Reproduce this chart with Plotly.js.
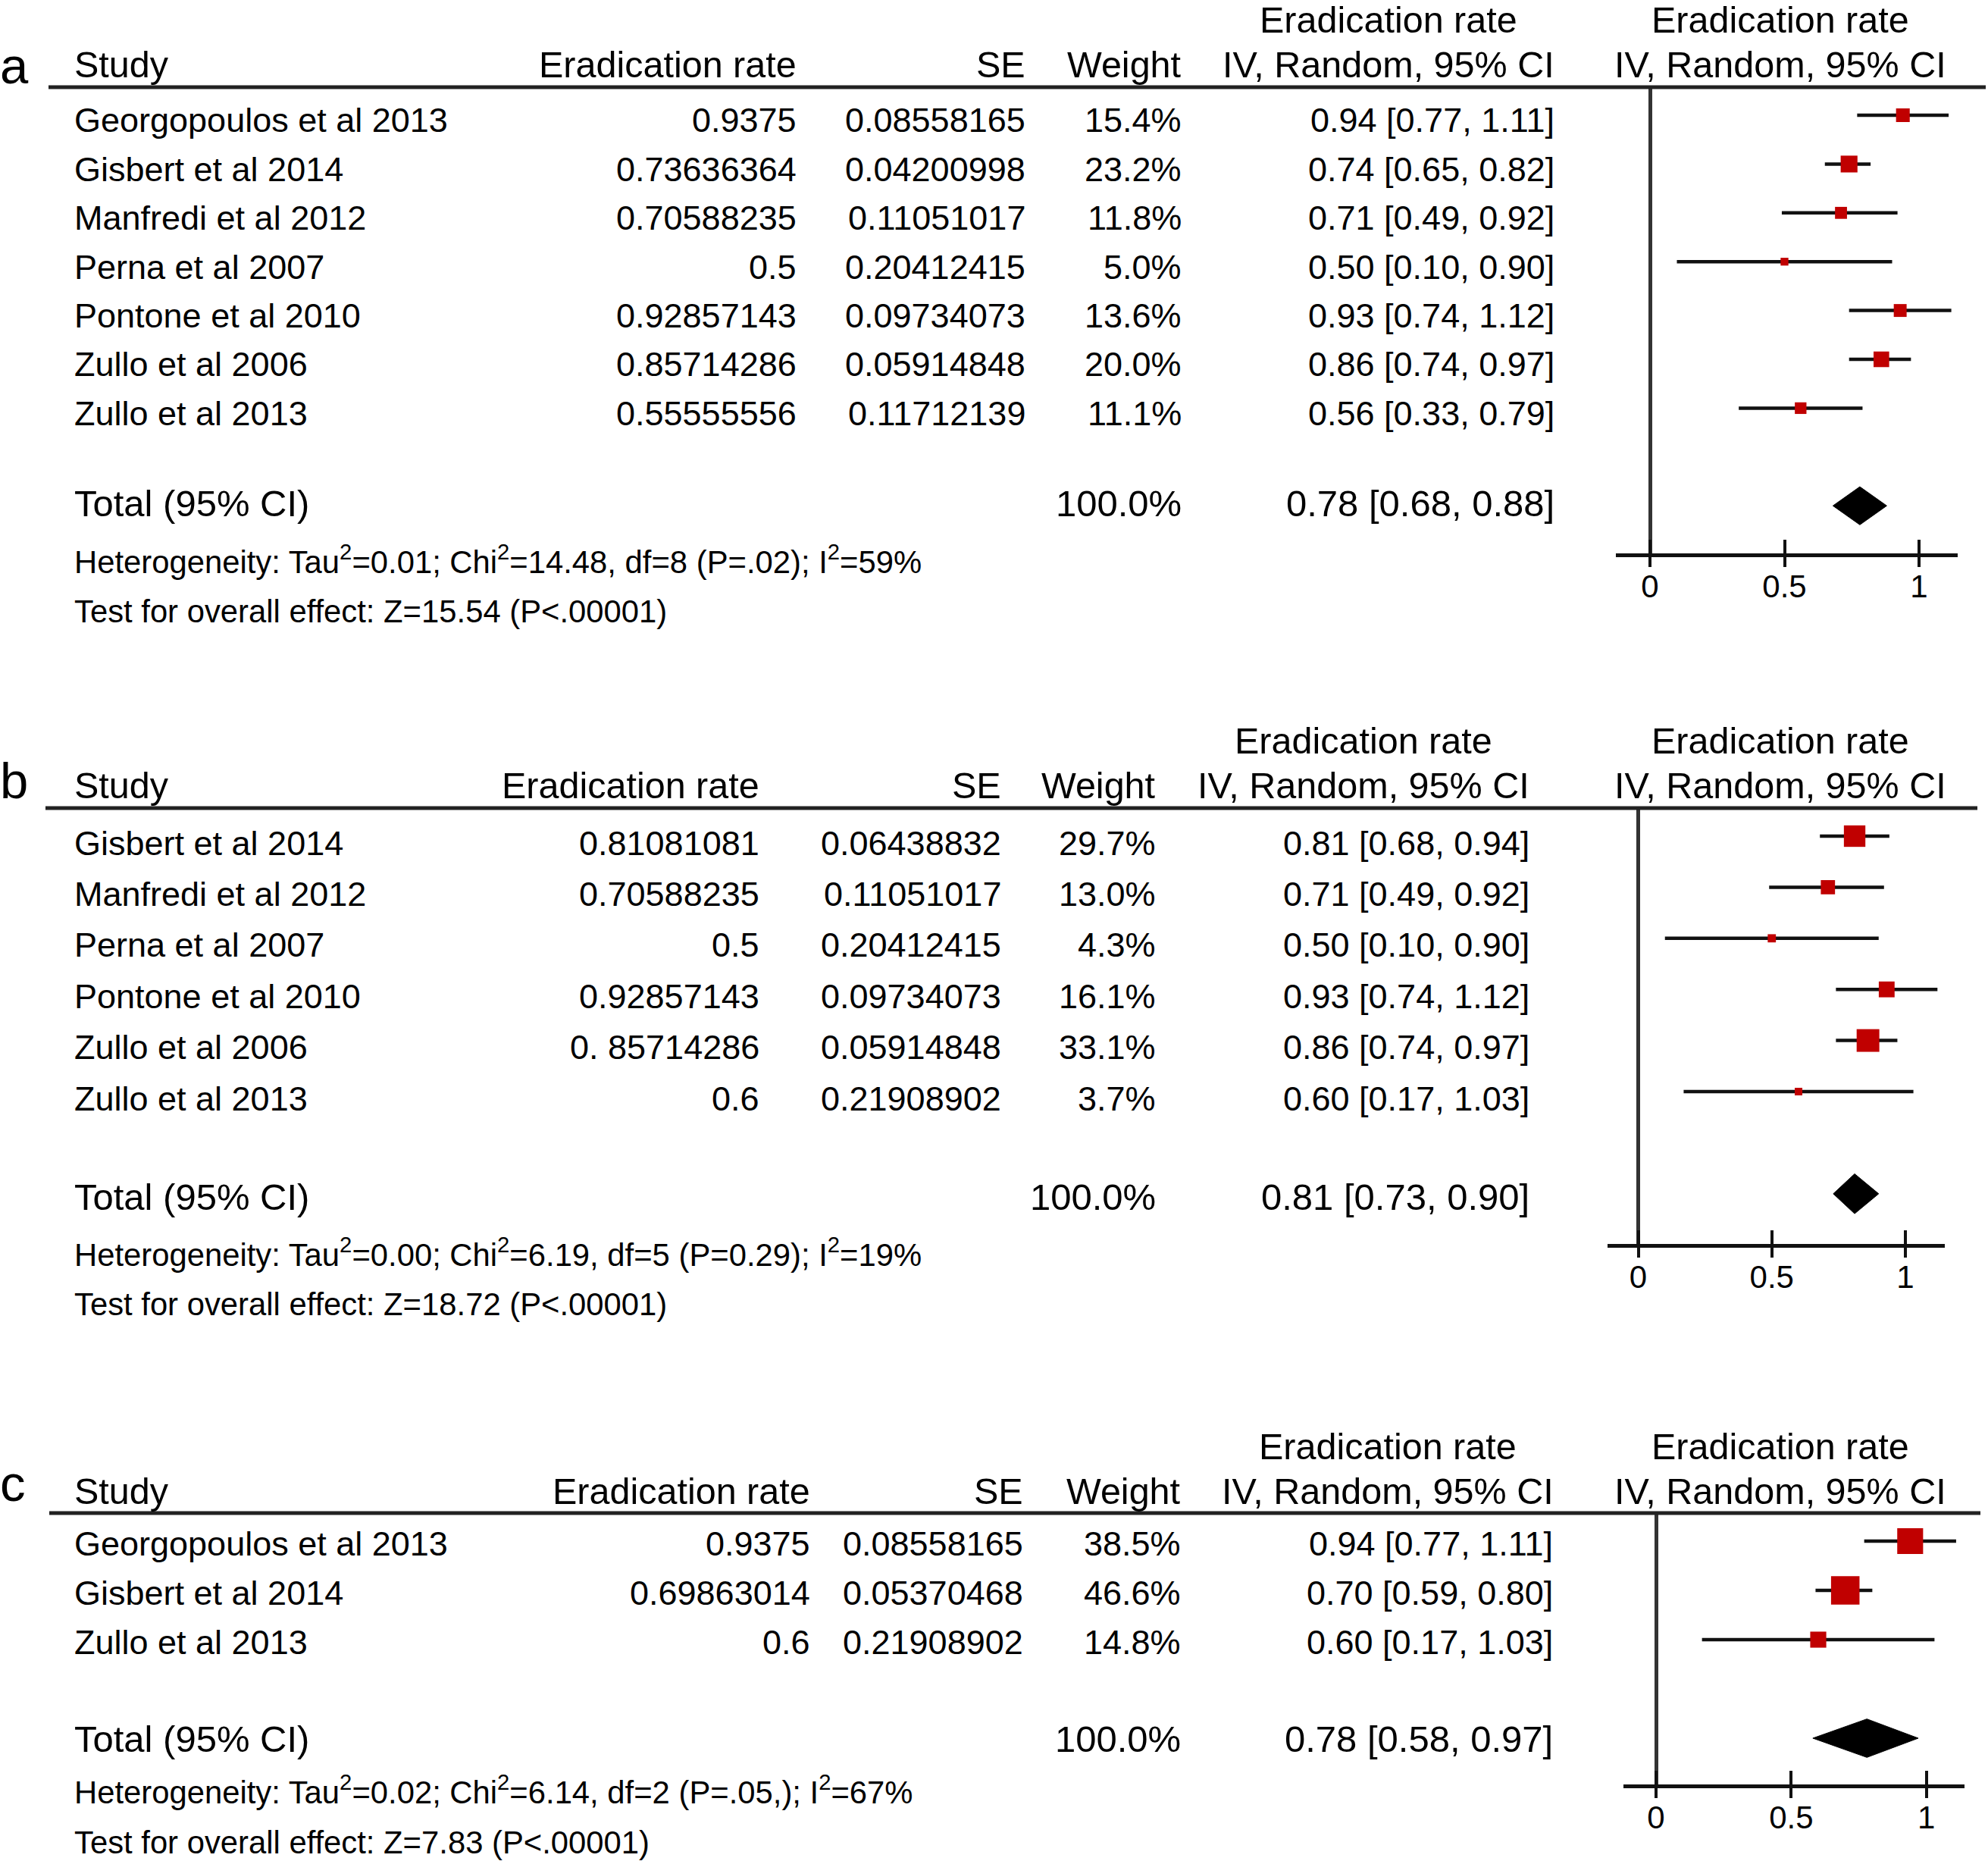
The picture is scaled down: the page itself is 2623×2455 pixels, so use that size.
<!DOCTYPE html>
<html>
<head>
<meta charset="utf-8">
<script src="https://cdn.plot.ly/plotly-3.0.1.min.js"></script>
<style>html,body{margin:0;padding:0;background:#fff;}#chart{width:2623px;height:2455px;}</style>
</head>
<body>
<div id="chart"></div>
<script>
// ---------------- DATA ----------------
// Panel a
const studiesA = ['Georgopoulos et al 2013','Gisbert et al 2014','Manfredi et al 2012','Perna et al 2007','Pontone et al 2010','Zullo et al 2006','Zullo et al 2013'];
const rateA = ['0.9375','0.73636364','0.70588235','0.5','0.92857143','0.85714286','0.55555556'];
const seA = ['0.08558165','0.04200998','0.11051017','0.20412415','0.09734073','0.05914848','0.11712139'];
const weightA = [15.4, 23.2, 11.8, 5.0, 13.6, 20.0, 11.1];
const estA = [0.94, 0.74, 0.71, 0.50, 0.93, 0.86, 0.56];
const loA = [0.77, 0.65, 0.49, 0.10, 0.74, 0.74, 0.33];
const hiA = [1.11, 0.82, 0.92, 0.90, 1.12, 0.97, 0.79];
const totalA = [0.78, 0.68, 0.88];
const hetA = 'Heterogeneity: Tau<sup>2</sup>=0.01; Chi<sup>2</sup>=14.48, df=8 (P=.02); I<sup>2</sup>=59%';
const testA = 'Test for overall effect: Z=15.54 (P&lt;.00001)';

// Panel b
const studiesB = ['Gisbert et al 2014','Manfredi et al 2012','Perna et al 2007','Pontone et al 2010','Zullo et al 2006','Zullo et al 2013'];
const rateB = ['0.81081081','0.70588235','0.5','0.92857143','0. 85714286','0.6'];
const seB = ['0.06438832','0.11051017','0.20412415','0.09734073','0.05914848','0.21908902'];
const weightB = [29.7, 13.0, 4.3, 16.1, 33.1, 3.7];
const estB = [0.81, 0.71, 0.50, 0.93, 0.86, 0.60];
const loB = [0.68, 0.49, 0.10, 0.74, 0.74, 0.17];
const hiB = [0.94, 0.92, 0.90, 1.12, 0.97, 1.03];
const totalB = [0.81, 0.73, 0.90];
const hetB = 'Heterogeneity: Tau<sup>2</sup>=0.00; Chi<sup>2</sup>=6.19, df=5 (P=0.29); I<sup>2</sup>=19%';
const testB = 'Test for overall effect: Z=18.72 (P&lt;.00001)';

// Panel c
const studiesC = ['Georgopoulos et al 2013','Gisbert et al 2014','Zullo et al 2013'];
const rateC = ['0.9375','0.69863014','0.6'];
const seC = ['0.08558165','0.05370468','0.21908902'];
const weightC = [38.5, 46.6, 14.8];
const estC = [0.94, 0.70, 0.60];
const loC = [0.77, 0.59, 0.17];
const hiC = [1.11, 0.80, 1.03];
const totalC = [0.78, 0.58, 0.97];
const hetC = 'Heterogeneity: Tau<sup>2</sup>=0.02; Chi<sup>2</sup>=6.14, df=2 (P=.05,); I<sup>2</sup>=67%';
const testC = 'Test for overall effect: Z=7.83 (P&lt;.00001)';

// Column headers / axis ticks
const headStudy = 'Study';
const headRate = 'Eradication rate';
const headSE = 'SE';
const headWeight = 'Weight';
const headCI1 = 'Eradication rate';
const headCI2 = 'IV, Random, 95% CI';
const totalLabel = 'Total (95% CI)';
const totalWeight = '100.0%';
const tickVals = [0, 0.5, 1];
const tickText = ['0', '0.5', '1'];

// ---------------- LAYOUT GEOMETRY (pixels) ----------------
const W = 2623, H = 2455;
const FONT = 'Liberation Sans, Arial, Helvetica, sans-serif';
const px = v => v / W;
const py = v => 1 - v / H;

const panels = [
  {letter:'a', studies:studiesA, rate:rateA, se:seA, weight:weightA, est:estA, lo:loA, hi:hiA, total:totalA, het:hetA, test:testA,
   geo:{letterY:86, lineY:115, lineX0:64, lineX1:2620, plotX0:2132, plotX1:2583, zeroPx:2177, unitPx:355, bottom:730,
        r0:152, step:64.4, textDy:7, totalDy:-3, head1Y:26, head2Y:85, hetY:738, testY:806,
        colStudy:97, colRate:1052, colSE:1354, colW:1560, colCI:2052, ciHeadC:1832, plotHeadC:2349, k:4.6}},
  {letter:'b', studies:studiesB, rate:rateB, se:seB, weight:weightB, est:estB, lo:loB, hi:hiB, total:totalB, het:hetB, test:testB,
   geo:{letterY:1029, lineY:1066, lineX0:60, lineX1:2609, plotX0:2121, plotX1:2566, zeroPx:2161.5, unitPx:352.5, bottom:1641,
        r0:1103, step:67.4, textDy:9, totalDy:4, head1Y:977, head2Y:1036, hetY:1652, testY:1720,
        colStudy:97, colRate:1003, colSE:1322, colW:1526, colCI:2019, ciHeadC:1799, plotHeadC:2349, k:5.2}},
  {letter:'c', studies:studiesC, rate:rateC, se:seC, weight:weightC, est:estC, lo:loC, hi:hiC, total:totalC, het:hetC, test:testC,
   geo:{letterY:1956, lineY:1996, lineX0:65, lineX1:2613, plotX0:2142, plotX1:2592, zeroPx:2185, unitPx:356.7, bottom:2354,
        r0:2033, step:65, textDy:3, totalDy:1, head1Y:1908, head2Y:1967, hetY:2361, testY:2430,
        colStudy:97, colRate:1070, colSE:1351, colW:1559, colCI:2050, ciHeadC:1831, plotHeadC:2349, k:5.5}}
];

const fmtCI = (e, l, h) => e.toFixed(2) + ' [' + l.toFixed(2) + ', ' + h.toFixed(2) + ']';

const data = [];
const annotations = [];
const shapes = [];
const layout = {
  width: W, height: H,
  margin: {l:0, r:0, t:0, b:0, pad:0},
  paper_bgcolor: '#fff', plot_bgcolor: 'rgba(0,0,0,0)',
  showlegend: false,
  font: {family: FONT, color: '#000'},
  annotations: annotations,
  shapes: shapes
};

function txtPaper(text, xPx, yPx, xanchor, size) {
  annotations.push({text: text, xref:'paper', yref:'paper', x: px(xPx), y: py(yPx),
    xanchor: xanchor, yanchor: 'middle', showarrow: false, borderpad: 0,
    font: {family: FONT, size: size, color: '#000'}});
}
function txtAxis(text, xPx, yref, yVal, xanchor, size) {
  annotations.push({text: text, xref:'paper', yref: yref, x: px(xPx), y: yVal,
    xanchor: xanchor, yanchor: 'middle', showarrow: false, borderpad: 0,
    font: {family: FONT, size: size, color: '#000'}});
}

panels.forEach((p, i) => {
  const g = p.geo;
  const sfx = i === 0 ? '' : String(i + 1);
  const xa = 'x' + sfx, ya = 'y' + sfx;
  const xo = 'x' + (i + 4);
  const n = p.studies.length;
  const idx = p.studies.map((_, j) => j);
  const totalIdx = n + 1;
  const range = [(g.plotX0 - g.zeroPx) / g.unitPx, (g.plotX1 - g.zeroPx) / g.unitPx];
  const dy = g.textDy / g.step;
  const tdy = g.totalDy / g.step;

  // main axis: line, outside half of the ticks, vertical line at 0
  layout['xaxis' + sfx] = {
    domain: [px(g.plotX0), px(g.plotX1)], range: range, anchor: ya,
    showline: true, linewidth: 5, linecolor: '#111',
    ticks: 'outside', ticklen: 13, tickwidth: 4, tickcolor: '#111',
    tickmode: 'array', tickvals: tickVals, ticktext: tickText,
    showticklabels: false,
    showgrid: false, zeroline: true, zerolinewidth: 5, zerolinecolor: '#333',
    fixedrange: true
  };
  // overlay axis: inside half of the ticks + labels
  layout['xaxis' + (i + 4)] = {
    overlaying: xa, anchor: ya, side: 'bottom', range: range,
    tickmode: 'array', tickvals: tickVals, ticktext: tickText,
    ticks: 'inside', ticklen: 18, tickwidth: 4, tickcolor: '#111',
    showticklabels: true, tickfont: {family: FONT, size: 42, color: '#000'},
    ticklabelstandoff: 15,
    showline: false, showgrid: false, zeroline: false, fixedrange: true
  };
  layout['yaxis' + sfx] = {
    domain: [py(g.bottom), py(g.lineY)],
    range: [(g.bottom - g.r0) / g.step, (g.lineY - g.r0) / g.step],
    visible: false, fixedrange: true
  };

  // study estimates with CI whiskers
  data.push({
    type: 'scatter', mode: 'markers', x: p.est, y: idx, xaxis: xa, yaxis: ya,
    marker: {symbol: 'square', size: p.weight.map(w => g.k * Math.sqrt(w)), color: '#c00000', opacity: 1, line: {width: 0}},
    error_x: {type: 'data', symmetric: false,
      array: p.hi.map((h, j) => h - p.est[j]),
      arrayminus: p.est.map((e, j) => e - p.lo[j]),
      width: 0, thickness: 4.5, color: '#111'},
    hoverinfo: 'skip', cliponaxis: false
  });
  // pooled diamond
  const hh = 0.39;
  const t = p.total;
  data.push({
    type: 'scatter', mode: 'lines', xaxis: xo, yaxis: ya,
    x: [t[1], t[0], t[2], t[0], t[1]],
    y: [totalIdx, totalIdx - hh, totalIdx, totalIdx + hh, totalIdx],
    fill: 'toself', fillcolor: '#000', line: {color: '#000', width: 1},
    hoverinfo: 'skip'
  });

  // header rule
  shapes.push({type: 'line', xref: 'paper', yref: 'paper',
    x0: px(g.lineX0), x1: px(g.lineX1), y0: py(g.lineY), y1: py(g.lineY),
    line: {color: '#222', width: 5}});

  // panel letter
  txtPaper(p.letter, -1, g.letterY, 'left', 67);
  // headers
  txtPaper(headStudy, g.colStudy, g.head2Y, 'left', 48.5);
  txtPaper(headRate, g.colRate, g.head2Y, 'right', 48.5);
  txtPaper(headSE, g.colSE, g.head2Y, 'right', 48.5);
  txtPaper(headWeight, g.colW, g.head2Y, 'right', 48.5);
  txtPaper(headCI1, g.ciHeadC, g.head1Y, 'center', 48.5);
  txtPaper(headCI2, g.ciHeadC, g.head2Y, 'center', 48.5);
  txtPaper(headCI1, g.plotHeadC, g.head1Y, 'center', 48.5);
  txtPaper(headCI2, g.plotHeadC, g.head2Y, 'center', 48.5);

  // rows
  p.studies.forEach((s, j) => {
    txtAxis(s, g.colStudy, ya, j + dy, 'left', 45);
    txtAxis(p.rate[j], g.colRate, ya, j + dy, 'right', 45);
    txtAxis(p.se[j], g.colSE, ya, j + dy, 'right', 45);
    txtAxis(p.weight[j].toFixed(1) + '%', g.colW, ya, j + dy, 'right', 45);
    txtAxis(fmtCI(p.est[j], p.lo[j], p.hi[j]), g.colCI, ya, j + dy, 'right', 45);
  });
  // total row
  txtAxis(totalLabel, g.colStudy, ya, totalIdx + tdy, 'left', 49);
  txtAxis(totalWeight, g.colW, ya, totalIdx + tdy, 'right', 49);
  txtAxis(fmtCI(t[0], t[1], t[2]), g.colCI, ya, totalIdx + tdy, 'right', 49);
  // footnotes
  txtPaper(p.het, g.colStudy, g.hetY, 'left', 41.8);
  txtPaper(p.test, g.colStudy, g.testY, 'left', 41.8);
});

Plotly.newPlot('chart', data, layout, {staticPlot: true, responsive: false});
</script>
</body>
</html>
